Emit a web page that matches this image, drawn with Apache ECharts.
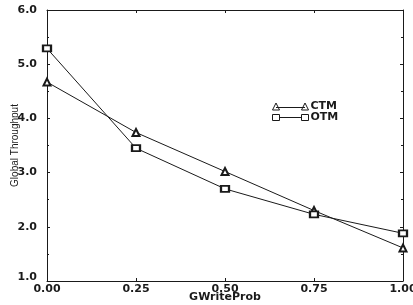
<!DOCTYPE html>
<html>
<head>
<meta charset="utf-8">
<script src="https://cdn.jsdelivr.net/npm/echarts@6/dist/echarts.min.js"></script>
<style>
  html, body { margin: 0; padding: 0; background: #fff; }
  #chart { width: 413px; height: 305px; }
</style>
</head>
<body>
<div id="chart"></div>
<script>
// values
const writeProb = [0.00, 0.25, 0.50, 0.75, 1.00]
const ctm = [4.67, 3.74, 3.02, 2.30, 1.61]
const otm = [5.29, 3.45, 2.70, 2.23, 1.88]

const ink = '#1a1a1a'
const labelFont = 'DejaVu Sans'

const chart = echarts.init(document.getElementById('chart'))

const boxAxis = {
  axisLine: { show: true, onZero: false, lineStyle: { color: ink, width: 1 } },
  axisTick: { show: true, inside: true, length: 3, lineStyle: { color: ink } },
  minorTick: { show: true, splitNumber: 2, length: 2, lineStyle: { color: ink } },
  splitLine: { show: false }
}

const option = {
  animation: false,
  backgroundColor: '#fff',
  grid: { left: 47, right: 10, top: 10, bottom: 24, containLabel: false, outerBoundsMode: 'none' },
  legend: {
    orient: 'vertical',
    left: 267,
    top: 96,
    itemGap: 0,
    itemWidth: 36,
    itemHeight: 7,
    textStyle: { color: ink, fontFamily: labelFont, fontWeight: 'bold', fontSize: 11, padding: [0, 0, 0, -3] },
    data: [
      { name: 'CTM', icon: 'path://M0,7L3.5,0L7,7ZM3.5,4.5L32.5,4.5M29,7L32.5,0L36,7Z' },
      { name: 'OTM', icon: 'path://M0,1H7V7H0ZM7,4H29M29,1H36V7H29Z' }
    ],
    itemStyle: { color: 'transparent', borderColor: ink, borderWidth: 1 }
  },
  xAxis: [
    Object.assign({}, boxAxis, {
      type: 'value',
      min: 0, max: 1, interval: 0.25,
      name: 'GWriteProb',
      nameLocation: 'middle',
      nameGap: 11,
      nameMoveOverlap: false,
      nameTextStyle: { color: ink, fontFamily: labelFont, fontWeight: 'bold', fontSize: 11 },
      minorTick: { show: false },
      axisLabel: {
        color: ink, fontFamily: labelFont, fontWeight: 'bold', fontSize: 11, margin: 3,
        formatter: v => v.toFixed(2)
      }
    }),
    Object.assign({}, boxAxis, {
      type: 'value', position: 'top',
      min: 0, max: 1, interval: 0.25,
      minorTick: { show: false },
      axisLabel: { show: false }
    })
  ],
  yAxis: [
    Object.assign({}, boxAxis, {
      type: 'value',
      min: 1, max: 6, interval: 1,
      name: 'Global Throughput',
      nameLocation: 'middle',
      nameGap: 27,
      nameMoveOverlap: false,
      nameTextStyle: { color: ink, fontFamily: 'Liberation Sans Narrow, Liberation Sans', fontSize: 10 },
      axisLabel: {
        color: ink, fontFamily: labelFont, fontWeight: 'bold', fontSize: 11, margin: 10,
        formatter: v => v === 1 ? '{low|' + v.toFixed(1) + '}' : v.toFixed(1),
        rich: {
          low: { color: ink, fontFamily: labelFont, fontWeight: 'bold', fontSize: 11, padding: [0, 0, 8, 0] }
        }
      }
    }),
    Object.assign({}, boxAxis, {
      type: 'value', position: 'right',
      min: 1, max: 6, interval: 1,
      axisLabel: { show: false }
    })
  ],
  series: [
    {
      name: 'CTM',
      type: 'line',
      data: writeProb.map((x, i) => [x, ctm[i]]),
      symbol: 'emptyTriangle',
      symbolSize: 7,
      lineStyle: { color: ink, width: 1 },
      itemStyle: { color: ink, borderColor: ink, borderWidth: 0.8 }
    },
    {
      name: 'OTM',
      type: 'line',
      data: writeProb.map((x, i) => [x, otm[i]]),
      symbol: 'emptyRect',
      symbolSize: [8, 6],
      lineStyle: { color: ink, width: 1 },
      itemStyle: { color: ink, borderColor: ink, borderWidth: 0.8 }
    }
  ]
}

chart.setOption(option)
</script>
</body>
</html>
